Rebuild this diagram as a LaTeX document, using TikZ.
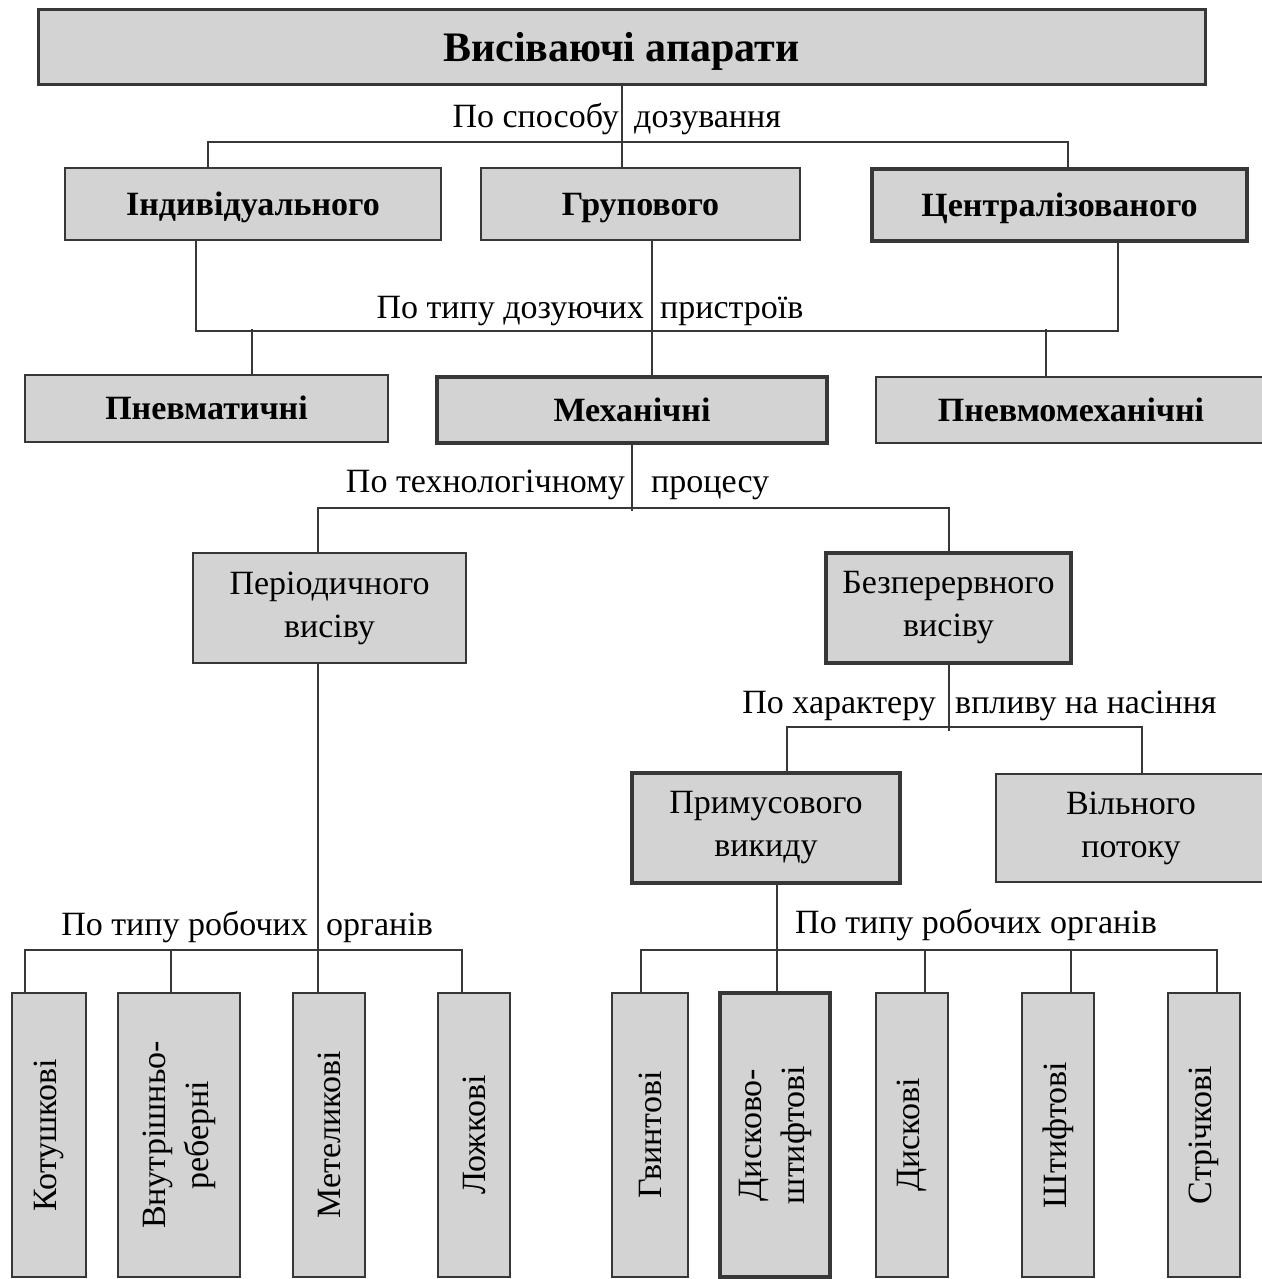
\documentclass[tikz,border=0pt]{standalone}
\usepackage{fontspec}
\setmainfont{Liberation Serif}
\usepackage{tikz}
\definecolor{boxfill}{RGB}{211,211,211}
\definecolor{lineclr}{RGB}{55,55,55}

\begin{document}
\begin{tikzpicture}[
  x=1pt, y=-1pt,
  font=\fontsize{34}{43}\selectfont,
  box/.style={draw=lineclr, fill=boxfill, line width=2pt, inner sep=0, align=center},
  thickbox/.style={box, line width=4pt},
  hdr/.style={font=\fontsize{34}{43}\selectfont\bfseries, text height=26pt, text depth=4pt},
  lbl/.style={inner sep=0},
  conn/.style={draw=lineclr, line width=2pt},
]
\useasboundingbox (0,0) rectangle (1261,1279);
% --- poziom 0 ---
\node[box, line width=3pt, minimum width=1167pt, minimum height=75pt, text height=31pt, text depth=3pt,
      font=\fontsize{42}{50}\selectfont\bfseries] (vys) at (621.5,47.5) {Висіваючі апарати};
% --- poziom 1: po sposobu dozuvannia ---
\node[box, hdr, minimum width=376pt, minimum height=72pt] (ind) at (253,204) {Індивідуального};
\node[box, hdr, minimum width=319pt, minimum height=72pt] (grp) at (640.5,204) {Групового};
\node[thickbox, hdr, minimum width=375pt, minimum height=72pt] (cen) at (1059.5,205) {Централізованого};
% --- poziom 2: po typu dozuiuchykh prystroiv ---
\node[box, hdr, minimum width=363pt, minimum height=67pt] (pnv) at (206.5,408.5) {Пневматичні};
\node[thickbox, hdr, minimum width=390pt, minimum height=66pt] (mek) at (632,410) {Механічні};
\node[box, hdr, minimum width=390pt, minimum height=66pt] (pmk) at (1071,410) {Пневмомеханічні};
% --- poziom 3: po tekhnolohichnomu protsesu ---
\node[box, minimum width=273pt, minimum height=110pt] (per) at (329.5,608) {Періодичного\\висіву};
\node[thickbox, minimum width=245pt, minimum height=110pt] (bez) at (948.5,608) {Безперервного\\висіву};
% --- poziom 4: po kharakteru vplyvu ---
\node[thickbox, minimum width=268pt, minimum height=110pt] (pri) at (766,828) {Примусового\\викиду};
\node[box, minimum width=270pt, minimum height=108pt] (vil) at (1131,828) {Вільного\\потоку};
% --- poziom 5: po typu robochykh orhaniv ---
\foreach \nm/\cx/\w/\lw/\txt in {kot/49/74/2/Котушкові, vnu/179/122/2/{Внутрішньо-\\реберні},
    met/329/72/2/Метеликові, loz/474/72/2/Ложкові, gvy/650/76/2/Гвинтові,
    dsh/775/110/4/{Дисково-\\штифтові}, dys/912/72/2/Дискові, sht/1058/72/2/Штифтові,
    str/1204/72/2/Стрічкові} {
  \node[box, line width=\lw pt, minimum width=\w pt, minimum height=284pt] (\nm) at (\cx,1135) {};
  \node[rotate=90, align=center, inner sep=0] (\nm-t) at (\nm) {\txt};
}
% ===================== pidpysy =====================
\node[lbl, anchor=mid east] (l1a) at (619,125) {По способу};
\node[lbl, anchor=mid west] (l1b) at (634,125) {дозування};
\node[lbl, anchor=mid east] (l2a) at (644,316) {По типу дозуючих};
\node[lbl, anchor=mid west] (l2b) at (660,316) {пристроїв};
\node[lbl, anchor=mid east] (l3a) at (625,490) {По технологічному};
\node[lbl, anchor=mid west] (l3b) at (651,490) {процесу};
\node[lbl, anchor=mid east] (l4a) at (936,711) {По характеру};
\node[lbl, anchor=mid west] (l4b) at (955,711) {впливу на насіння};
\node[lbl, anchor=mid east] (l5a) at (308,933) {По типу робочих};
\node[lbl, anchor=mid west] (l5b) at (326,933) {органів};
\node[lbl, anchor=mid west] (l6) at (795,931) {По типу робочих органів};
% ===================== zviazky =====================
\draw[conn] (vys.south) -- (vys.south |- grp.north);
\draw[conn] ([xshift=-45pt]ind.north) -- ++(0,-25) -| ([xshift=8.5pt]cen.north);
\draw[conn] ([xshift=-57pt]ind.south) -- ++(0,90) -| ([xshift=58.5pt]cen.south);
\draw[conn] ([xshift=11.5pt]grp.south) -- ([xshift=11.5pt]grp.south |- mek.north);
\draw[conn] ([xshift=45.5pt]pnv.north) -- ++(0,-45);
\draw[conn] ([xshift=-25pt]pmk.north) -- ++(0,-47);
\draw[conn] (mek.south) -- ++(0,66);
\draw[conn] ([xshift=-11.5pt]per.north) -- ++(0,-44) -| (bez.north);
\draw[conn] ([xshift=-11.5pt]per.south) -- ([xshift=-11.5pt]per.south |- met.north);
\draw[conn] ([xshift=-24pt]kot.north) -- ++(0,-42) -| ([xshift=-12pt]loz.north);
\draw[conn] ([xshift=-8pt]vnu.north) -- ++(0,-42);
\draw[conn] (bez.south) -- ++(0,66);
\draw[conn] ([xshift=21pt]pri.north) -- ++(0,-44) -| ([xshift=11pt]vil.north);
\draw[conn] ([xshift=11pt]pri.south) -- ([xshift=11pt]pri.south |- dsh.north);
\draw[conn] ([xshift=-9pt]gvy.north) -- ++(0,-42) -| ([xshift=13pt]str.north);
\draw[conn] ([xshift=13pt]dys.north) -- ++(0,-42);
\draw[conn] ([xshift=13pt]sht.north) -- ++(0,-42);
\end{tikzpicture}
\end{document}
